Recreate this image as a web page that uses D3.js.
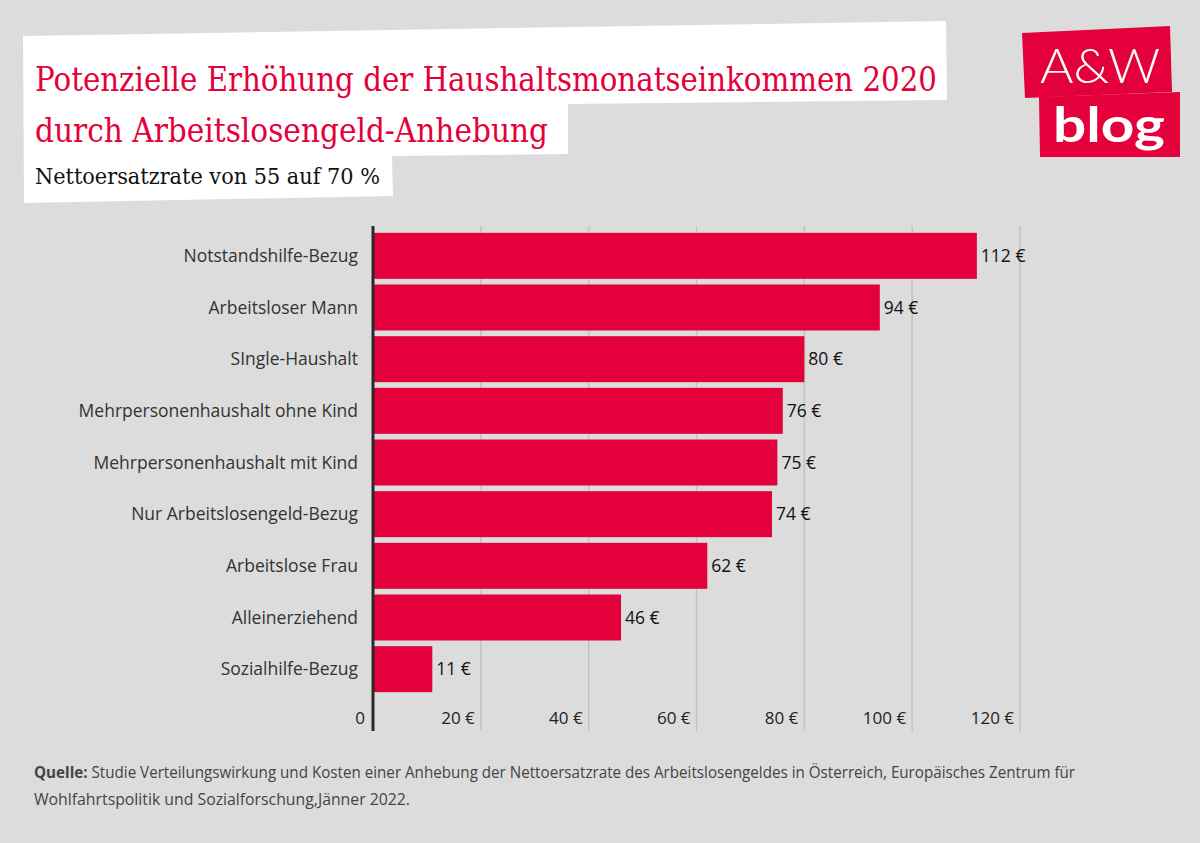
<!DOCTYPE html>
<html><head><meta charset="utf-8">
<script src="https://cdn.jsdelivr.net/npm/d3@7"></script>
<style>
html,body{margin:0;padding:0;background:#dcdcdc;}
svg{display:block;}
</style></head>
<body>
<script>
const categories = ["Notstandshilfe-Bezug","Arbeitsloser Mann","SIngle-Haushalt","Mehrpersonenhaushalt ohne Kind","Mehrpersonenhaushalt mit Kind","Nur Arbeitslosengeld-Bezug","Arbeitslose Frau","Alleinerziehend","Sozialhilfe-Bezug"];
const values = [112,94,80,76,75,74,62,46,11];
const ticks = [0,20,40,60,80,100,120];
const tickLabels = ["0","20 €","40 €","60 €","80 €","100 €","120 €"];
const titleLines = ["Potenzielle Erhöhung der Haushaltsmonatseinkommen 2020","durch Arbeitslosengeld-Anhebung"];
const subtitle = "Nettoersatzrate von 55 auf 70 %";
const sourceBold = "Quelle:";
const sourceLines = [" Studie Verteilungswirkung und Kosten einer Anhebung der Nettoersatzrate des Arbeitslosengeldes in Österreich, Europäisches Zentrum für","Wohlfahrtspolitik und Sozialforschung,Jänner 2022."];

const W=1200,H=843;
const RED="#e4003a";
const svg=d3.select("body").append("svg").attr("width",W).attr("height",H);
svg.append("rect").attr("width",W).attr("height",H).attr("fill","#dcdcdc");

// white title box
svg.append("path").attr("fill","#fff")
 .attr("d","M23,36 L946,21 L947,100 L568,104 L568,154 L392,156 L393,196 L24,203 Z");

const tg=svg.append("g");
tg.append("text").attr("x",35).attr("y",91).attr("fill",RED)
 .attr("font-family","'DejaVu Serif'").attr("font-size",33)
 .attr("textLength",902).attr("lengthAdjust","spacingAndGlyphs").text(titleLines[0]);
tg.append("text").attr("x",35).attr("y",142).attr("fill",RED)
 .attr("font-family","'DejaVu Serif'").attr("font-size",33)
 .attr("textLength",513).attr("lengthAdjust","spacingAndGlyphs").text(titleLines[1]);
tg.append("text").attr("x",35).attr("y",184).attr("fill","#111")
 .attr("font-family","'DejaVu Serif'").attr("font-size",23)
 .attr("textLength",345).attr("lengthAdjust","spacingAndGlyphs").text(subtitle);

// logo
const lg=svg.append("g");
lg.append("path").attr("fill",RED).attr("d","M1022,33 L1170,26 L1172,92 L1025,98 Z");
lg.append("path").attr("fill",RED).attr("d","M1039,97 L1180,92 L1180,157 L1040,157 Z");
lg.append("text").attr("x",1040).attr("y",83).attr("fill","#fff")
 .attr("font-family","Lato").attr("font-weight",300).attr("font-size",48)
 .attr("textLength",120).attr("lengthAdjust","spacingAndGlyphs").text("A&W");
lg.append("text").attr("x",1053).attr("y",142).attr("fill","#fff")
 .attr("font-family","Lato").attr("font-weight",700).attr("font-size",48)
 .attr("textLength",112).attr("lengthAdjust","spacingAndGlyphs").text("blog");

// chart
const x=d3.scaleLinear().domain([0,120]).range([373,1020]);
const y=d3.scaleBand().domain(categories).range([230,695]).paddingInner(0.11).paddingOuter(0.055);

const grid=svg.append("g");
grid.selectAll("line").data(ticks.slice(1)).join("line")
 .attr("x1",d=>x(d)).attr("x2",d=>x(d)).attr("y1",226).attr("y2",731)
 .attr("stroke","#c2c2c2").attr("stroke-width",1.5);

svg.append("g").selectAll("rect").data(values).join("rect")
 .attr("x",x(0)).attr("y",(d,i)=>y(categories[i]))
 .attr("width",d=>x(d)-x(0)).attr("height",y.bandwidth()).attr("fill",RED);

svg.append("g").selectAll("text").data(values).join("text")
 .attr("x",d=>x(d)+4).attr("y",(d,i)=>y(categories[i])+y.bandwidth()/2+6)
 .attr("font-family","'Open Sans'").attr("font-size",17.5).attr("fill","#111")
 .text(d=>d+" €");

svg.append("g").selectAll("text").data(categories).join("text")
 .attr("x",358).attr("y",d=>y(d)+y.bandwidth()/2+6).attr("text-anchor","end")
 .attr("font-family","'Open Sans'").attr("font-size",17.5).attr("fill","#333")
 .text(d=>d);

svg.append("line").attr("x1",x(0)).attr("x2",x(0)).attr("y1",226).attr("y2",731)
 .attr("stroke","#2a2a2a").attr("stroke-width",3);

svg.append("g").selectAll("text").data(ticks).join("text")
 .attr("x",d=>x(d)-(d===0?8:6)).attr("y",724).attr("text-anchor","end")
 .attr("font-family","'Open Sans'").attr("font-size",17).attr("fill","#222")
 .text((d,i)=>tickLabels[i]);

// source
const s1=svg.append("text").attr("x",34).attr("y",778).attr("font-family","'Open Sans'").attr("font-size",16).attr("fill","#444")
 .attr("textLength",1041).attr("lengthAdjust","spacingAndGlyphs");
s1.append("tspan").attr("font-weight",700).text(sourceBold);
s1.append("tspan").text(sourceLines[0]);
svg.append("text").attr("x",34).attr("y",805).attr("font-family","'Open Sans'").attr("font-size",16).attr("fill","#444")
 .attr("textLength",376).attr("lengthAdjust","spacingAndGlyphs").text(sourceLines[1]);
</script>
</body></html>
